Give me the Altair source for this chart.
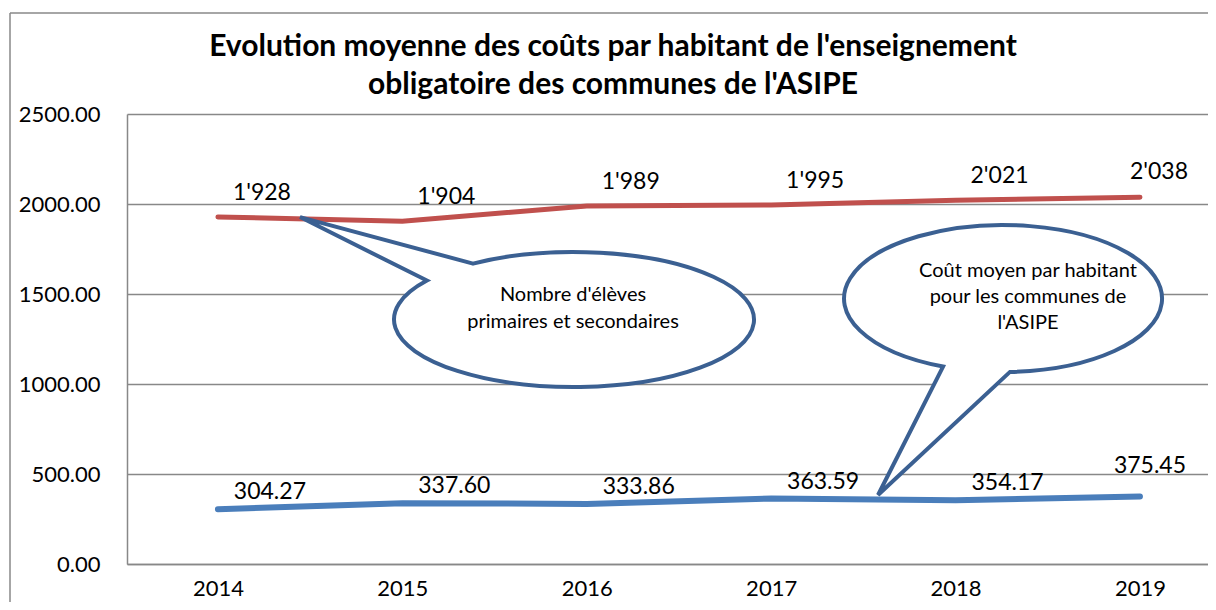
import math
import altair as alt
import pandas as pd

# ---------------- data ----------------
years = [2014, 2015, 2016, 2017, 2018, 2019]
eleves = [1928, 1904, 1989, 1995, 2021, 2038]
cout = [304.27, 337.60, 333.86, 363.59, 354.17, 375.45]
y_ticks = [0, 500, 1000, 1500, 2000, 2500]

title_lines = [
    "Evolution moyenne des coûts par habitant de l'enseignement",
    "obligatoire des communes de l'ASIPE",
]
bubble1_lines = ["Nombre d'élèves", "primaires et secondaires"]
bubble2_lines = ["Coût moyen par habitant", "pour les communes de", "l'ASIPE"]

# ---------------- styling ----------------
FONT = "Lato"
RED = "#C0504D"
BLUE = "#4A7EBB"
BUBBLE = "#3B6092"
GRID = "#888888"

W, H = 1081, 450

df_red = pd.DataFrame({
    "year": years,
    "value": eleves,
    "label": [f"{v:,}".replace(",", "'") for v in eleves],
})
df_blue = pd.DataFrame({
    "year": years,
    "value": cout,
    "label": [f"{v:.2f}" for v in cout],
})
one = pd.DataFrame({"k": [0]})

x_enc = alt.X(
    "year:Q",
    scale=alt.Scale(domain=[2013.507, 2019.369], nice=False, zero=False),
    axis=alt.Axis(values=years, format="d", title=None, grid=False, ticks=False,
                  domainColor=GRID, domainWidth=1.5, labelFont=FONT, labelFontSize=22,
                  labelColor="black", labelPadding=14),
)
y_enc = alt.Y(
    "value:Q",
    scale=alt.Scale(domain=[0, 2500], nice=False),
    axis=alt.Axis(values=y_ticks, format=".2f", title=None, grid=True, gridColor=GRID,
                  gridWidth=1.5, ticks=False, domainColor=GRID, domainWidth=1.5,
                  labelFont=FONT, labelFontSize=22, labelColor="black", labelPadding=27),
)


def ellipse_point(ux, ry):
    return ux, ry * math.sqrt(max(0.0, 1 - ux * ux))


def bubble_path(ry, ax, ay_sign, tip, bx, by_sign):
    a = ellipse_point(ax, ry)
    b = ellipse_point(bx, ry)
    ay = a[1] * ay_sign
    by = b[1] * by_sign
    return (f"M {ax:.4f} {ay:.4f} L {tip[0]:.4f} {tip[1]:.4f} L {bx:.4f} {by:.4f} "
            f"A 1 {ry:.4f} 0 1 0 {ax:.4f} {ay:.4f} Z")


# bubble 1 (Nombre d'élèves) : rx 180 px
path1 = bubble_path(0.375, -0.561, -1, (-1.522, -0.569), -0.817, -1)
# bubble 2 (Coût moyen) : rx 159 px
path2 = bubble_path(0.462, -0.377, 1, (-0.786, 1.236), 0.044, 1)

line_red = alt.Chart(df_red).mark_line(color=RED, strokeWidth=5, strokeCap="round").encode(x=x_enc, y=y_enc)
line_blue = alt.Chart(df_blue).mark_line(color=BLUE, strokeWidth=6, strokeCap="round").encode(x=x_enc, y=y_enc)


def labels(df, dx, dy, last_dx, last_dy):
    base = alt.Chart(df).encode(x="year:Q", y="value:Q", text="label:N")
    main = base.transform_filter(alt.datum.year < 2019).mark_text(
        font=FONT, fontSize=23, color="black", dx=dx, dy=dy)
    last = base.transform_filter(alt.datum.year == 2019).mark_text(
        font=FONT, fontSize=23, color="black", dx=last_dx, dy=last_dy)
    return main + last


lab_red = labels(df_red, 44, -24, 19, -25)
lab_blue = labels(df_blue, 52, -17, 10, -30)

bubble1 = alt.Chart(one).mark_point(
    shape=path1, size=(2 * 180) ** 2, filled=True, fill="white", stroke=BUBBLE,
    strokeWidth=4, opacity=1, fillOpacity=1, strokeJoin="miter"
).encode(x=alt.value(447), y=alt.value(205.5))
bubble2 = alt.Chart(one).mark_point(
    shape=path2, size=(2 * 159) ** 2, filled=True, fill="white", stroke=BUBBLE,
    strokeWidth=4, opacity=1, fillOpacity=1, strokeJoin="miter"
).encode(x=alt.value(876), y=alt.value(184.5))

text1 = alt.Chart(one).mark_text(
    text=bubble1_lines, font=FONT, fontSize=20, color="black", lineHeight=27, baseline="middle"
).encode(x=alt.value(446), y=alt.value(181))
text2 = alt.Chart(one).mark_text(
    text=bubble2_lines, font=FONT, fontSize=20, color="black", lineHeight=26, baseline="middle"
).encode(x=alt.value(901), y=alt.value(157))

title_txt = alt.Chart(one).mark_text(
    text=title_lines, font=FONT, fontSize=30, fontWeight="bold", color="black",
    lineHeight=38, baseline="middle", align="center"
).encode(x=alt.value(486), y=alt.value(-67))

frame_top = alt.Chart(one).mark_rule(color=GRID, strokeWidth=1.5).encode(
    x=alt.value(-117), x2=alt.value(W + 10), y=alt.value(-101))
frame_left = alt.Chart(one).mark_rule(color=GRID, strokeWidth=1.5).encode(
    x=alt.value(-117), y=alt.value(-101), y2=alt.value(H + 60))

chart = alt.layer(
    frame_top, frame_left, title_txt, line_red, line_blue, lab_red, lab_blue,
    bubble1, bubble2, text1, text2
).properties(
    width=W,
    height=H,
    autosize=alt.AutoSizeParams(type="none"),
    padding={"left": 119, "top": 106, "right": 0, "bottom": 38},
    background="white",
).configure_view(stroke=None)

chart.save("out.html", embed_options={"renderer": "svg", "actions": False})
